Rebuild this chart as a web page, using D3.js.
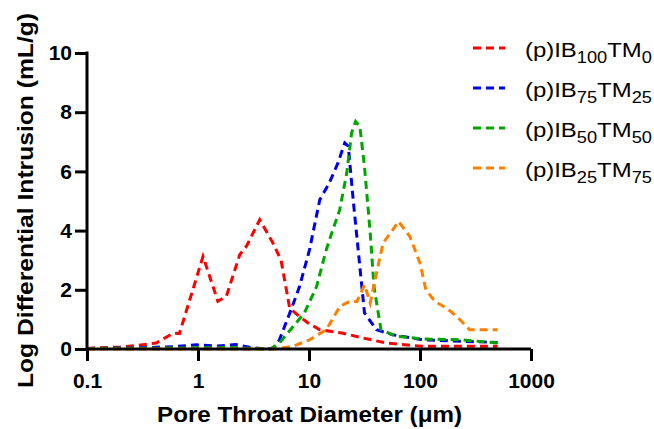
<!DOCTYPE html>
<html>
<head>
<meta charset="utf-8">
<script src="https://cdn.jsdelivr.net/npm/d3@7"></script>
<style>
  body { margin: 0; background: #fff; }
  svg { font-family: "Liberation Sans", Arial, sans-serif; }
</style>
</head>
<body>
<div id="chart"></div>
<script>

// series: [diameter µm, log differential intrusion mL/g]
var ib100 = [[0.1, 0.02], [0.15, 0.05], [0.2, 0.07], [0.28, 0.12], [0.42, 0.2], [0.6, 0.54], [0.68, 0.52],
    [1.11, 3.13], [1.51, 1.61], [1.8, 1.78], [2.38, 3.19], [2.73, 3.47], [3.6, 4.37], [4.73, 3.58],
    [5.6, 3.0], [6.7, 1.38], [8.2, 1.1], [9.8, 0.88], [12.5, 0.65], [19.8, 0.54], [30.7, 0.37],
    [49.8, 0.2], [106, 0.09], [500, 0.09]];

var ib75 = [[0.1, 0.02], [0.3, 0.04], [0.6, 0.08], [0.97, 0.14], [1.5, 0.1], [2.2, 0.15], [3, 0.05],
    [4.1, 0.0], [4.76, 0.03], [5.4, 0.3], [6.9, 1.33], [8.2, 2.1], [10.1, 3.35], [12.5, 5.04],
    [15.2, 5.6], [18.2, 6.28], [21, 6.96], [22.6, 6.85], [25, 5.04], [28.7, 2.79], [31.6, 1.22],
    [40.6, 0.65], [57, 0.48], [106, 0.31], [242, 0.26], [500, 0.22]];

var ib50 = [[0.1, 0.02], [0.5, 0.03], [1, 0.04], [2, 0.05], [3, 0.02], [4.5, 0.0], [5.4, 0.2],
    [7.2, 0.76], [9.1, 1.22], [11.7, 2.11], [14.3, 3.35], [16.4, 4.03], [18.9, 4.7], [21.9, 5.95],
    [24.2, 7.3], [26.3, 7.69], [28.7, 7.52], [31.6, 6.17], [35.6, 3.92], [38.5, 2.11], [44.5, 0.65],
    [61, 0.43], [106, 0.34], [242, 0.31], [500, 0.2]];

var ib25 = [[0.1, 0.0], [1, 0.0], [5, 0.0], [7.2, 0.09], [10.1, 0.31], [14.3, 0.65], [19, 1.44],
    [23.2, 1.61], [27, 1.6], [31.6, 2.17], [35.6, 1.55], [40.6, 2.57], [46.5, 3.58], [57, 4.03],
    [64, 4.31], [81, 3.8], [100, 2.9], [113, 2.0], [136, 1.61], [174, 1.38], [214, 1.1],
    [280, 0.65], [500, 0.65]];

var series = [ib100, ib75, ib50, ib25];
var colors = ["#ff0000", "#0000e6", "#00a600", "#ff8000"];
var legend_main = ["(p)IB", "(p)IB", "(p)IB", "(p)IB"];
var legend_sub1 = ["100", "75", "50", "25"];
var legend_sub2 = ["0", "25", "50", "75"];

var x_ticks = [0.1, 1, 10, 100, 1000];
var x_tick_labels = ["0.1", "1", "10", "100", "1000"];
var y_ticks = [0, 2, 4, 6, 8, 10];

var width = 654,
    height = 429;

var svg = d3.select("#chart").append("svg")
    .attr("width", width)
    .attr("height", height);

var x = d3.scaleLog()
    .domain([0.1, 1000])
    .range([87, 531]);

var y = d3.scaleLinear()
    .domain([0, 10])
    .range([349, 53]);

var line = d3.line()
    .x(function(d) { return x(d[0]); })
    .y(function(d) { return y(d[1]); });

// curves
svg.append("g")
    .selectAll("path")
    .data(series)
    .enter().append("path")
    .attr("d", line)
    .attr("fill", "none")
    .attr("stroke", function(d, i) { return colors[i]; })
    .attr("stroke-width", 3)
    .attr("stroke-dasharray", "8,5");

// axes
var x_axis = svg.append("g")
    .attr("transform", "translate(0," + y(0) + ")")
    .call(d3.axisBottom(x)
        .tickValues(x_ticks)
        .tickFormat(function(d, i) { return x_tick_labels[i]; })
        .tickSize(12)
        .tickPadding(12));

var y_axis = svg.append("g")
    .attr("transform", "translate(" + x(0.1) + ",0)")
    .call(d3.axisLeft(y)
        .tickValues(y_ticks)
        .tickSize(12)
        .tickPadding(3));

[x_axis, y_axis].forEach(function(a) {
    a.select(".domain")
        .attr("stroke", "#000")
        .attr("stroke-width", 3);
    a.selectAll(".tick line")
        .attr("stroke", "#000")
        .attr("stroke-width", 3);
    a.selectAll(".tick text")
        .attr("fill", "#000")
        .style("font-family", "'Liberation Sans', Arial, sans-serif")
        .style("font-size", "21px")
        .style("font-weight", "bold");
});
// keep the domain without the outer end caps
x_axis.select(".domain").attr("d", "M" + x(0.1) + ",0H" + x(1000));
y_axis.select(".domain").attr("d", "M0," + (y(10) - 1.5) + "V" + y(0));

// axis titles
svg.append("text")
    .attr("x", 309.5)
    .attr("y", 422)
    .attr("text-anchor", "middle")
    .attr("textLength", 305)
    .attr("lengthAdjust", "spacingAndGlyphs")
    .style("font-size", "22px")
    .style("font-weight", "bold")
    .text("Pore Throat Diameter (μm)");

svg.append("text")
    .attr("transform", "translate(33,200.5) rotate(-90)")
    .attr("text-anchor", "middle")
    .attr("textLength", 375)
    .attr("lengthAdjust", "spacingAndGlyphs")
    .style("font-size", "22px")
    .style("font-weight", "bold")
    .text("Log Differential Intrusion (mL/g)");

// legend
var legend = svg.append("g")
    .selectAll("g")
    .data(series)
    .enter().append("g")
    .attr("transform", function(d, i) { return "translate(473," + (48 + i * 40) + ")"; });

legend.append("line")
    .attr("x1", 0)
    .attr("x2", 32)
    .attr("stroke", function(d, i) { return colors[i]; })
    .attr("stroke-width", 3)
    .attr("stroke-dasharray", "8,5");

var label_box = legend.append("g")
    .attr("transform", "translate(52,0)");

var label = label_box.append("text")
    .attr("y", 9)
    .style("font-size", "21px");

label.append("tspan")
    .text(function(d, i) { return legend_main[i]; });
label.append("tspan")
    .attr("dy", 6)
    .style("font-size", "16px")
    .text(function(d, i) { return legend_sub1[i]; });
label.append("tspan")
    .attr("dy", -6)
    .text("TM");
label.append("tspan")
    .attr("dy", 6)
    .style("font-size", "16px")
    .text(function(d, i) { return legend_sub2[i]; });

// the reference legend type is set wider; stretch the first label to 127px and the rest alike
var first_w = label.node().getComputedTextLength();
var sx = 127 / first_w;
label_box.attr("transform", "translate(52,0) scale(" + sx + ",1)");

</script>
</body>
</html>
